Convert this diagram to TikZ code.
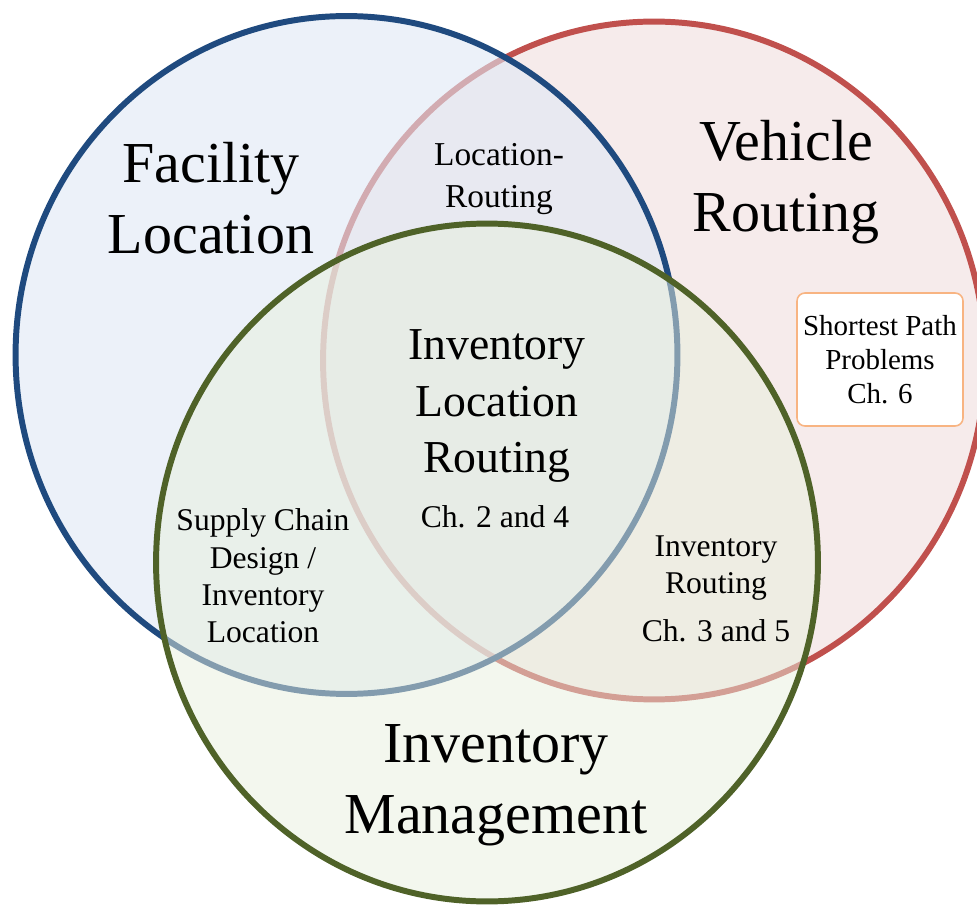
\documentclass[tikz,border=0pt]{standalone}
\usepackage{fontspec}
\setmainfont{Liberation Serif}
\usetikzlibrary{positioning}

\definecolor{vrfill}{HTML}{F6EBEB}
\definecolor{vrline}{HTML}{C0504D}
\definecolor{flfill}{HTML}{DFE8F5}
\definecolor{flline}{HTML}{1F4A7F}
\definecolor{imfill}{HTML}{E7EFDD}
\definecolor{imline}{HTML}{4F6228}
\definecolor{boxline}{HTML}{F8B482}

\begin{document}
\begin{tikzpicture}[x=0.02cm, y=-0.02cm,
  ring/.style={line width=3.4pt},
  bigtxt/.style={align=center, font=\fontsize{33}{40.4}\selectfont},
  midtxt/.style={align=center, font=\fontsize{26}{32}\selectfont},
  smalltxt/.style={align=center, font=\fontsize{18}{21.2}\selectfont},
  chapbox/.style={draw=boxline, line width=0.9pt, fill=white, rounded corners=4.5pt,
    minimum width=3.32cm, minimum height=2.66cm, align=center,
    font=\fontsize{16.5}{19.5}\selectfont}]
  \clip (0,0) rectangle (977,905);

  % Lingkaran (merah, biru, hijau)
  \foreach \cx/\cy/\fc/\lc/\op in {654/360.5/vrfill/vrline/1, 346.5/355/flfill/flline/0.6, 487/562.5/imfill/imline/0.5} {
    \fill[\fc, fill opacity=\op] (\cx,\cy) ellipse [x radius=6.62cm, y radius=6.78cm];
    \draw[ring, \lc] (\cx,\cy) ellipse [x radius=6.62cm, y radius=6.78cm];
  }

  % Judul lingkaran
  \node[bigtxt] (fl) at (211,198) {Facility\\Location};
  \node[bigtxt] (vr) at (786,182) {Vehicle\\Routing};
  \node[bigtxt] (im) at (496,785) {Inventory\\Management};

  % Irisan
  \node[align=center, font=\fontsize{19}{24}\selectfont] (lr) at (499,179) {Location-\\Routing};
  \node[midtxt] (ilr) at (497,406) {Inventory\\Location\\Routing};
  \node[smalltxt] (ilrch) at (495,517) {Ch. 2 and 4};
  \node[smalltxt] (scd) at (263,576) {Supply Chain\\Design /\\Inventory\\Location};
  \node[smalltxt] (ir) at (716,589) {Inventory\\Routing\\[6.3pt]Ch. 3 and 5};

  % Kotak
  \node[chapbox] (sp) at (880,359.5) {Shortest Path\\Problems\\Ch. 6};
\end{tikzpicture}
\end{document}
